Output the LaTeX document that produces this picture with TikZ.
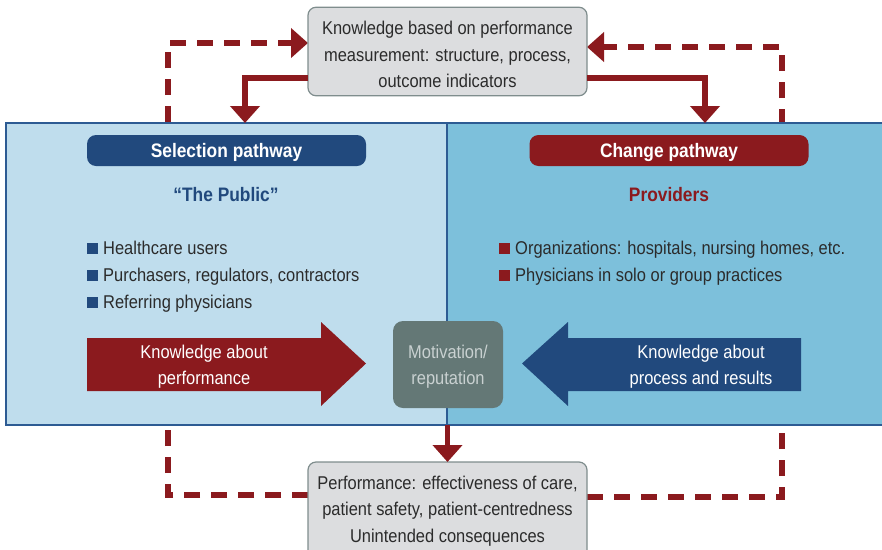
\documentclass[tikz,border=0pt]{standalone}
\usepackage{fontspec}
\setmainfont{Liberation Sans}[FakeStretch=0.89]
\usetikzlibrary{arrows.meta}
\definecolor{dred}{HTML}{8B1A1E}
\definecolor{dblue}{HTML}{21497D}
\definecolor{lpfill}{HTML}{BFDDED}
\definecolor{rpfill}{HTML}{7DC0DB}
\definecolor{pborder}{HTML}{2D5B93}
\definecolor{boxfill}{HTML}{DCDDDF}
\definecolor{boxgray}{HTML}{7F8D8D}
\definecolor{motfill}{HTML}{647876}
\definecolor{mottext}{HTML}{C9D1D1}
\definecolor{txt}{HTML}{2B2B2B}
\newcommand\regf{\fontsize{18.5}{26.5}\selectfont}
\newcommand\boldf{\fontsize{19.5}{22}\selectfont\bfseries}
\newcommand\bsq[1]{{\color{#1}\rule[0.5pt]{11pt}{11pt}}\hspace{5pt}}
\newcommand\upstrut[1]{\rule{0pt}{#1}}
\pgfdeclarelayer{bg}
\pgfsetlayers{bg,main}
\begin{document}
\begin{tikzpicture}[x=1pt,y=-1pt,
  graybox/.style={draw=boxgray, line width=1.2pt, fill=boxfill, rounded corners=8pt,
    align=center, text=txt, font=\regf, inner sep=0pt, outer sep=0pt,
    minimum width=279pt},
  panel/.style={line width=1.5pt, draw=pborder, inner sep=0pt, outer sep=0pt,
    anchor=north west, minimum height=302pt},
  pill/.style={minimum width=279pt, minimum height=31pt, rounded corners=9pt,
    text=white, font=\boldf, text height=14pt, text depth=0pt, inner sep=0pt},
  heading/.style={font=\boldf, anchor=base, inner sep=0pt},
  bul/.style={font=\regf, text=txt, anchor=base west, inner sep=0pt},
  arrowtxt/.style={font=\regf, text=white, align=center, inner sep=0pt},
  motbox/.style={fill=motfill, text=mottext, font=\regf, align=center,
    rounded corners=10pt, minimum width=110pt, minimum height=87pt, inner sep=0pt},
  dashln/.style={draw=dred, line width=5.5pt, dash pattern=on 16pt off 11pt},
  solidln/.style={draw=dred, line width=5.5pt},
  tip/.style={-{Triangle[length=17pt,width=29pt]}}
]
\useasboundingbox (0,0) rectangle (882,549);

% panels
\node[panel, fill=lpfill, minimum width=441pt] (lp) at (6,123) {};
\node[panel, fill=rpfill, minimum width=440pt] (rp) at (447,123) {};

% top and bottom boxes
\node[graybox, minimum height=88.5pt] (kb) at (447.5,51.5)
  {\upstrut{20pt}Knowledge based on performance\\measurement: structure, process,\\outcome indicators};
\node[graybox, minimum height=98pt] (pf) at (447.5,511)
  {Performance: effectiveness of care,\\patient safety, patient-centredness\\Unintended consequences};

% pills and headings
\node[pill, fill=dblue] (sp) at (226.5,150.5) {Selection pathway};
\node[pill, fill=dred] (cp) at (669,150.5) {Change pathway};
\node[heading, text=dblue] (pub) at (226,201) {“The Public”};
\node[heading, text=dred] (prov) at (669,201) {Providers};

% bullets
\node[bul] (l1) at (87,254) {\bsq{dblue}Healthcare users};
\node[bul] (l2) at (87,281) {\bsq{dblue}Purchasers, regulators, contractors};
\node[bul] (l3) at (87,308) {\bsq{dblue}Referring physicians};
\node[bul] (r1) at (499,254) {\bsq{dred}Organizations: hospitals, nursing homes, etc.};
\node[bul] (r2) at (499,281) {\bsq{dred}Physicians in solo or group practices};

% big arrows
\fill[dred] (87,338) -- (321,338) -- (321,322) -- (366,363.5) -- (321,406) -- (321,391) -- (87,391) -- cycle;
\node[arrowtxt] (kap) at (204,366.5) {Knowledge about\\performance};
\fill[dblue] (801,338) -- (568,338) -- (568,322) -- (522,363.5) -- (568,406) -- (568,391) -- (801,391) -- cycle;
\node[arrowtxt] (kpr) at (701,366.5) {Knowledge about\\process and results};

% motivation
\node[motbox] (mot) at (448,364.5) {\upstrut{18pt}Motivation/\\reputation};

% connectors
\coordinate (dLb) at (168,495);
\coordinate (dLt) at (168,43);
\coordinate (dRb) at (782,497);
\coordinate (dRt) at (782,47);
\coordinate (sY) at (0,78);
\coordinate (sLt) at (245,123);
\coordinate (sRt) at (705,123);
\begin{pgfonlayer}{bg}
\draw[dashln, tip] (pf.west |- dLb) -- (dLb) -- (dLt) -- (kb.west |- dLt);
\draw[dashln, tip] (pf.east |- dRb) -- (dRb) -- (dRt) -- (kb.east |- dRt);
\end{pgfonlayer}
\draw[solidln, tip] (kb.west |- sY) -| (sLt);
\draw[solidln, tip] (kb.east |- sY) -| (sRt);
\draw[solidln, tip] (pf.north |- lp.south) -- (pf.north);
\end{tikzpicture}
\end{document}
